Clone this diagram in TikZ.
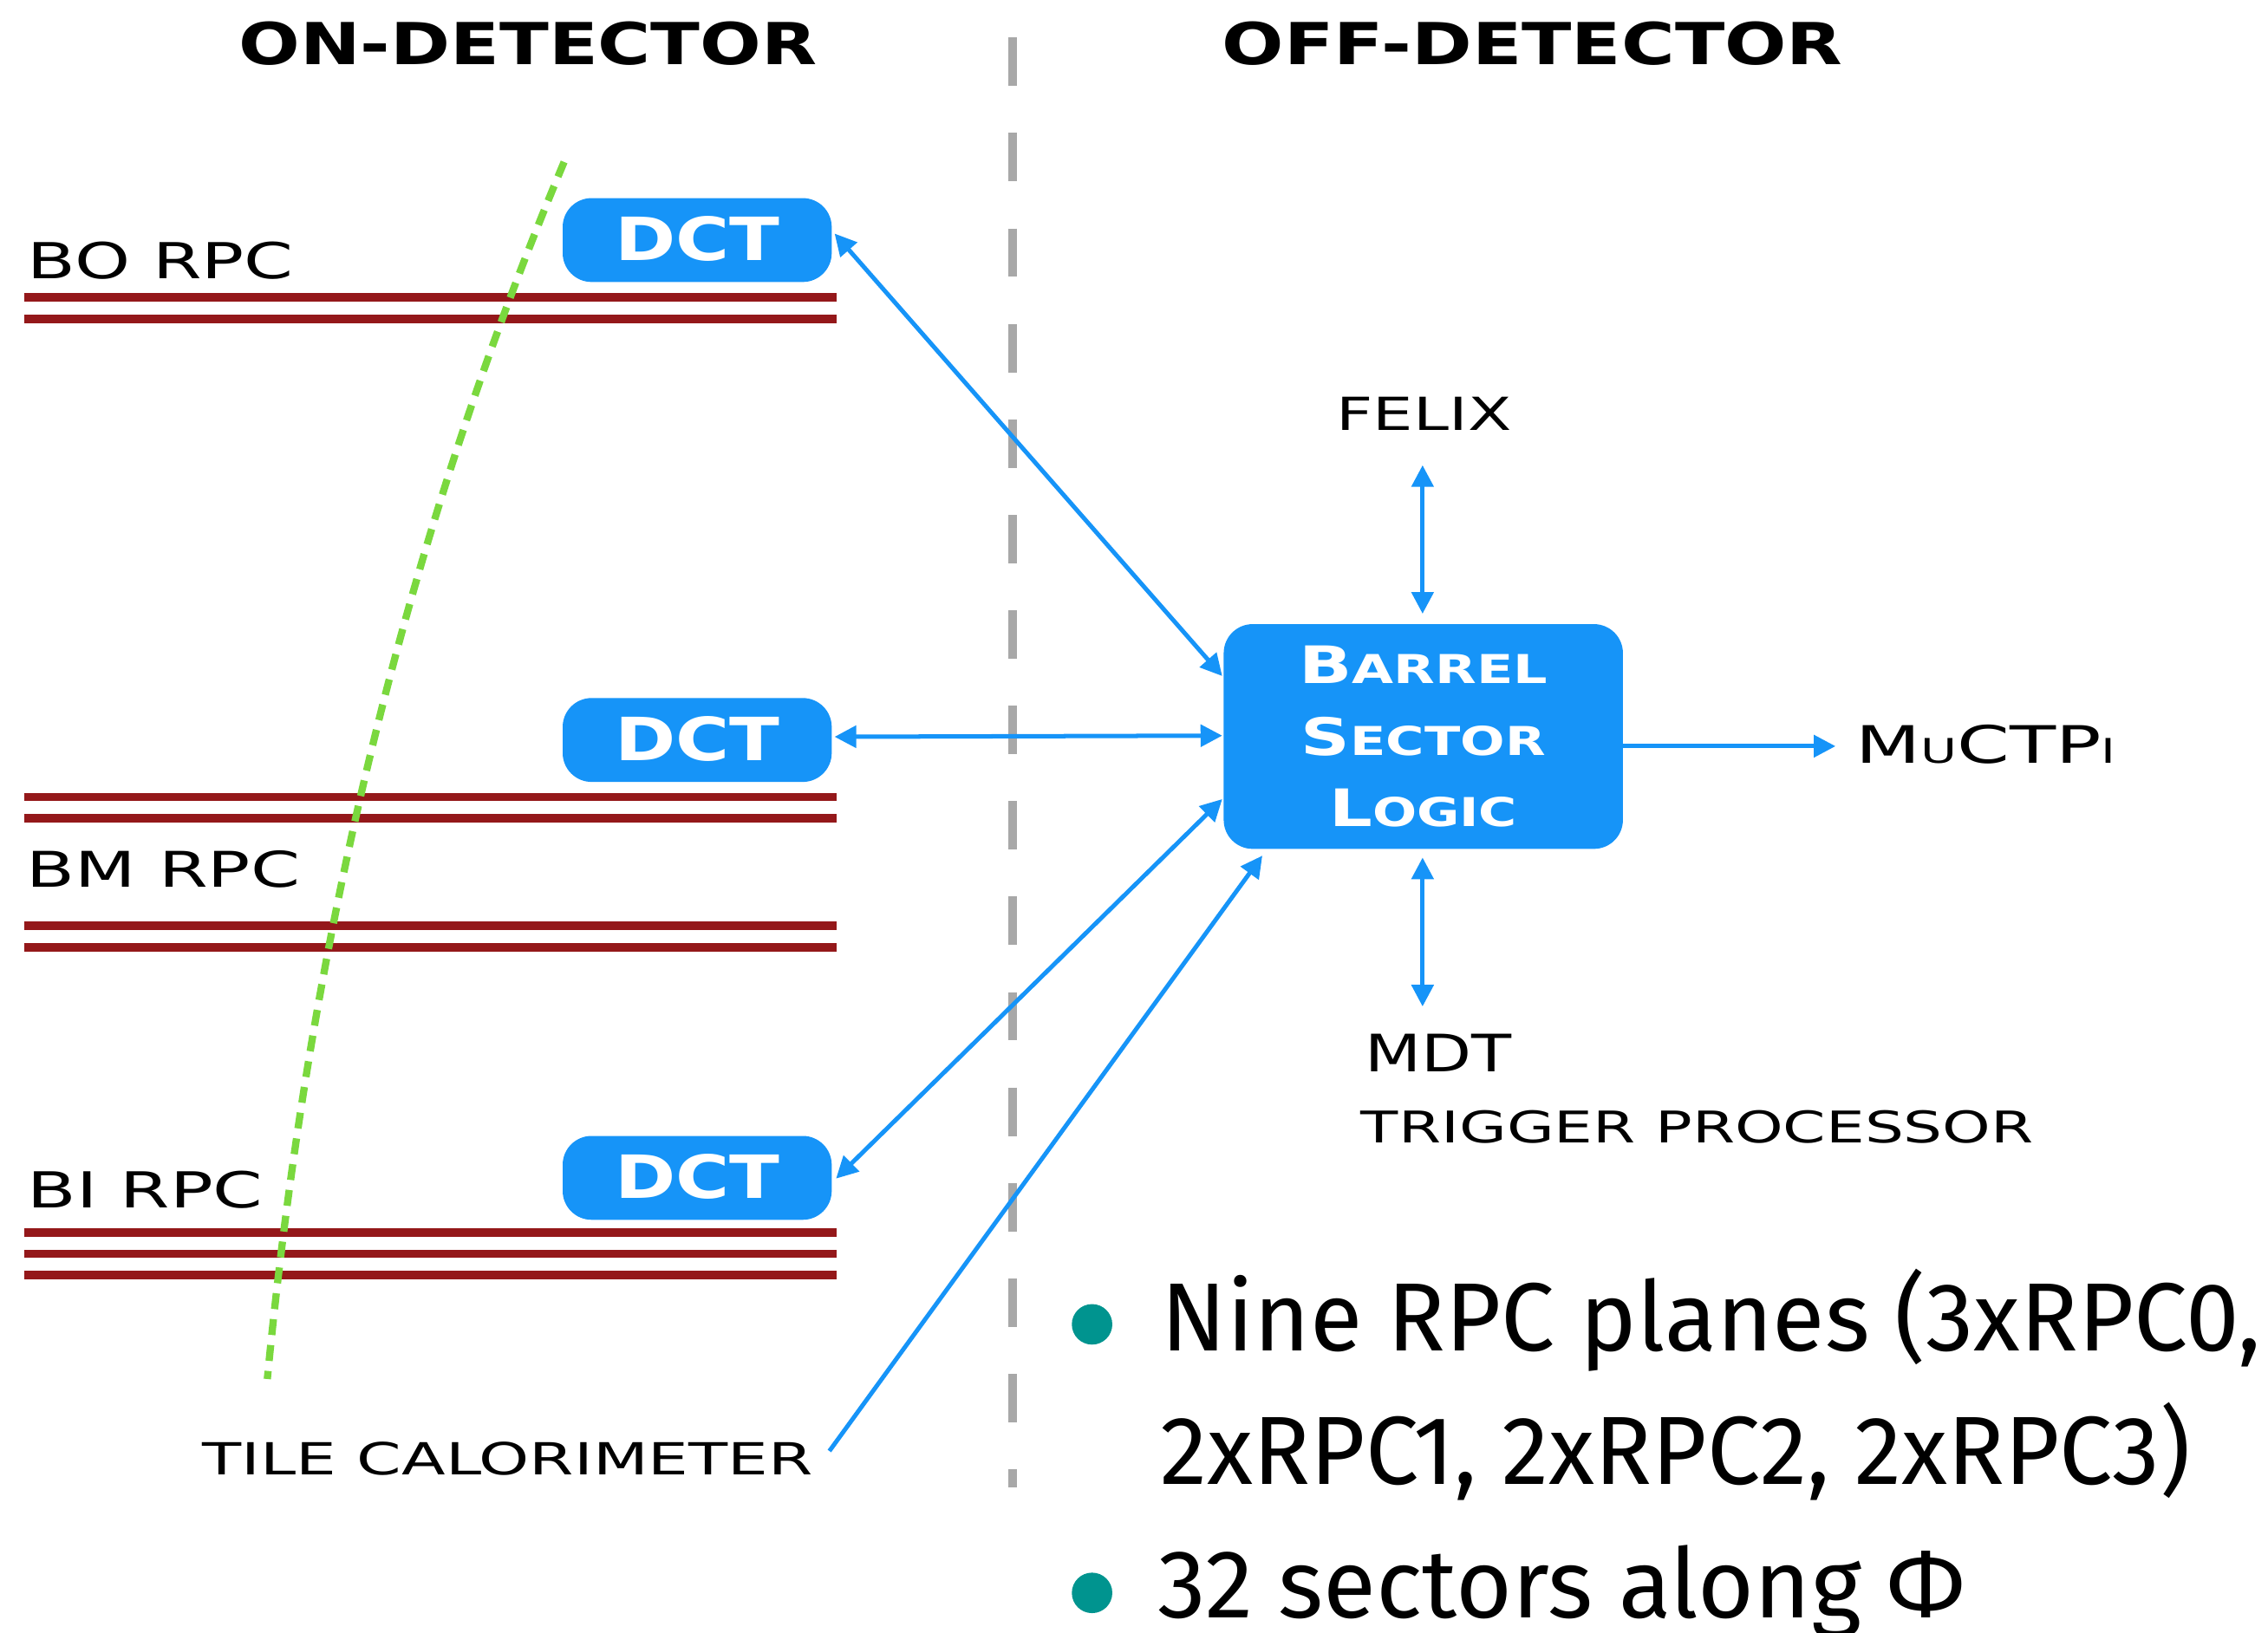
\documentclass[tikz,border=0pt]{standalone}
\usepackage{fontspec}
\usepackage{graphicx}
\setmainfont{DejaVu Sans}
\newfontfamily\fira{Fira Sans}
\usetikzlibrary{arrows.meta}
\definecolor{dblue}{RGB}{22,148,248}
\definecolor{rpcred}{RGB}{148,24,26}
\definecolor{tgreen}{RGB}{122,216,62}
\definecolor{dgray}{RGB}{168,168,168}
\definecolor{bteal}{RGB}{0,148,143}
\newcommand\fitw[2]{\resizebox{#1}{\height}{#2}}
\newcommand\fs[1]{\fontsize{#1}{#1}\selectfont}
\begin{document}
\begin{tikzpicture}[x=1pt,y=-1pt,
  >={Triangle[length=15pt,width=15pt]},
  lbl/.style={anchor=base west, inner sep=0pt, outer sep=0pt},
  rpc/.style={rpcred, line width=5.8pt},
  box/.style={fill=dblue, rounded corners=20pt, inner sep=0pt, text=white},
  link/.style={dblue, line width=3pt},
  ]
\useasboundingbox (0,0) rectangle (1568,1129);

% titles
\node[lbl] (ton) at (165,44.7) {\fs{40}\bfseries\fitw{400pt}{ON-DETECTOR}};
\node[lbl] (toff) at (845,44.4) {\fs{40}\bfseries\fitw{429pt}{OFF-DETECTOR}};

% divider
\draw[dgray, line width=6pt, dash pattern=on 33.5pt off 32.5pt] (700,26) -- (700,1028.5);

% RPC planes
\foreach \y in {205.5,220.4,551.1,566,640,655,852.3,867.1,881.6}
  \draw[rpc] (16.5,\y) -- (578.6,\y);

\node[lbl] (bo) at (19,193) {\fs{34.3}\fitw{184pt}{BO RPC}};
\node[lbl] (bm) at (18.5,613.3) {\fs{34}\fitw{189pt}{BM RPC}};
\node[lbl] (bi) at (19,835) {\fs{34.3}\fitw{163pt}{BI RPC}};

% tile calorimeter boundary
\draw[tgreen, line width=5pt, dash pattern=on 11pt off 7pt]
  (390,112) .. controls (272.4,392) and (212,673) .. (184.8,953.6);

% DCT boxes
\node[box, minimum width=186pt, minimum height=58pt] (dct1) at (482,166)
  {\fs{41.2}\bfseries\raisebox{2.5pt}{\fitw{114pt}{DCT}}};
\node[box, minimum width=186pt, minimum height=58pt] (dct2) at (482,511.7)
  {\fs{41.2}\bfseries\raisebox{2pt}{\fitw{114pt}{DCT}}};
\node[box, minimum width=186pt, minimum height=58pt] (dct3) at (482,814.5)
  {\fs{41.2}\bfseries\raisebox{2pt}{\fitw{114pt}{DCT}}};

% Barrel Sector Logic
\node[box, minimum width=276pt, minimum height=155.4pt] (bsl) at (984,509.3)
  {\raisebox{3pt}{\parbox{270pt}{\centering\fontsize{35.7}{49.5}\selectfont\bfseries
   \fitw{172pt}{B{\fs{27.5}ARREL}}\par
   \fitw{169pt}{S{\fs{27.5}ECTOR}}\par
   \fitw{130pt}{L{\fs{27.5}OGIC}}\par}}};

% labels
\node[lbl] (felix) at (924,297.7) {\fs{31.5}\fitw{121pt}{FELIX}};
\node[lbl] (muctpi) at (1283,528) {\fs{35.7}\fitw{180pt}{M{\fs{23.5}U}CTP{\fs{23.5}I}}};
\node[lbl] (mdt) at (943.6,741) {\fs{35.7}\fitw{101.4pt}{MDT}};
\node[lbl] (tp) at (941,790) {\fs{30.2}\fitw{465pt}{TRIGGER PROCESSOR}};
\node[lbl] (tile) at (140,1019.7) {\fs{30.6}\fitw{422pt}{TILE CALORIMETER}};

% connector end points
\coordinate (d1p) at (577,161.5);
\coordinate (b1p) at (845,467.5);
\coordinate (d2p) at (577,509.5);
\coordinate (b2p) at (845,508.7);
\coordinate (d3p) at (578,815);
\coordinate (b3p) at (845,552.6);
\coordinate (tlp) at (573.4,1003.4);
\coordinate (b4p) at (872.7,591.7);
\coordinate (fxp) at (983.5,321.7);
\coordinate (b5p) at (983.5,424.4);
\coordinate (b6p) at (983.5,593);
\coordinate (mdp) at (983.5,696);
\coordinate (b7p) at (1122,516);
\coordinate (mup) at (1269,516);

\draw[link, <->] (d1p) -- (b1p);
\draw[link, <->] (d2p) -- (b2p);
\draw[link, <->] (d3p) -- (b3p);
\draw[link, ->] (tlp) -- (b4p);
\draw[link, <->] (fxp) -- (b5p);
\draw[link, <->] (b6p) -- (mdp);
\draw[link, ->] (b7p) -- (mup);

% bullets
\fill[bteal] (755,915.8) circle (14pt);
\fill[bteal] (755,1101.5) circle (14pt);
\node[lbl] (l1) at (803,934) {\fira\fs{67}\fitw{760pt}{Nine RPC planes (3xRPC0,}};
\node[lbl] (l2) at (802.5,1026.5) {\fira\fs{67}\fitw{712pt}{2xRPC1, 2xRPC2, 2xRPC3)}};
\node[lbl] (l3) at (800.6,1118.8) {\fira\fs{67}\fitw{558pt}{32 sectors along Φ}};
\end{tikzpicture}
\end{document}
